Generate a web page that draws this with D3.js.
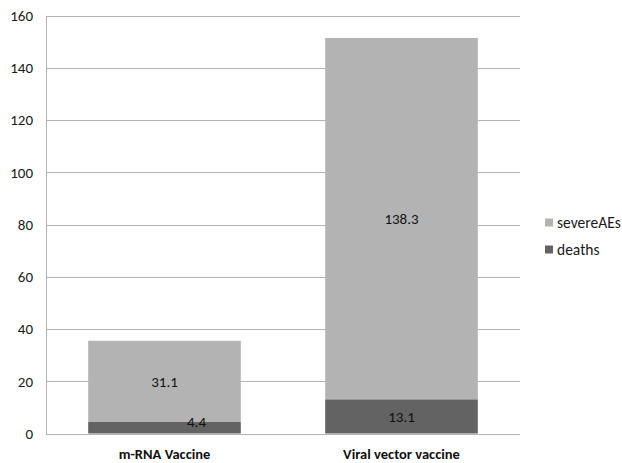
<!DOCTYPE html>
<html>
<head>
<meta charset="utf-8">
<script src="https://cdn.jsdelivr.net/npm/d3@7"></script>
<style>
  html, body { margin: 0; padding: 0; background: #fff; }
  svg { display: block; font-family: Carlito, Lato, "Liberation Sans", sans-serif; }
</style>
</head>
<body>
<svg id="chart" width="622" height="463"></svg>
<script>
// Vaccine categories and stacked series (deaths at the bottom, severe AEs on top)
const categories = ["m-RNA Vaccine", "Viral vector vaccine"];
const deaths = [4.4, 13.1];
const severeAEs = [31.1, 138.3];
const yTicks = [0, 20, 40, 60, 80, 100, 120, 140, 160];
const seriesNames = ["deaths", "severeAEs"];
const seriesColors = ["#636363", "#b3b3b3"];

const svg = d3.select("#chart");
const plot = { left: 46, right: 520, top: 15.5, bottom: 433.5 };

const x = d3.scaleBand()
  .domain(categories)
  .range([plot.left, plot.right])
  .paddingInner(0.356)
  .paddingOuter(0.178);

const y = d3.scaleLinear()
  .domain([0, 160])
  .range([plot.bottom, plot.top]);

// Horizontal gridlines
svg.append("g")
  .selectAll("line")
  .data(yTicks)
  .join("line")
  .attr("x1", plot.left)
  .attr("x2", plot.right)
  .attr("y1", d => Math.round(y(d)) + 0.5)
  .attr("y2", d => Math.round(y(d)) + 0.5)
  .attr("stroke", "#b3b3b3")
  .attr("stroke-width", 1);

// Y axis labels
const yAxis = svg.append("g")
  .attr("transform", `translate(${plot.left},0)`)
  .call(d3.axisLeft(y).tickValues(yTicks).tickSize(0).tickPadding(13));
yAxis.select(".domain").attr("stroke", "#b3b3b3");
yAxis.selectAll("text")
  .attr("font-size", 15)
  .attr("fill", "#1a1a1a")
  .attr("font-family", "Carlito, Lato, sans-serif");

// Stacked bars
const rows = categories.map((c, i) => ({ category: c, deaths: deaths[i], severeAEs: severeAEs[i] }));
const stacked = d3.stack().keys(seriesNames)(rows);

const layers = svg.append("g")
  .selectAll("g")
  .data(stacked)
  .join("g")
  .attr("fill", (d, i) => seriesColors[i]);

layers.selectAll("rect")
  .data(d => d)
  .join("rect")
  .attr("x", d => x(d.data.category))
  .attr("width", x.bandwidth())
  .attr("y", d => y(d[1]))
  .attr("height", d => y(d[0]) - y(d[1]));

// Value labels in the segments
stacked.forEach((layer, li) => {
  svg.append("g")
    .selectAll("text")
    .data(layer)
    .join("text")
    .attr("x", (d, i) => {
      const cx = x(d.data.category) + x.bandwidth() / 2;
      // the small m-RNA deaths label sits to the right of centre
      return (li === 0 && i === 0) ? cx + 32 : cx;
    })
    .attr("y", (d, i) => {
      const cy = (y(d[0]) + y(d[1])) / 2;
      return (li === 0 && i === 0) ? cy - 6 : cy;
    })
    .attr("dy", "0.35em")
    .attr("text-anchor", "middle")
    .attr("font-size", 15)
    .attr("fill", "#111")
    .text(d => d3.format(".1f")(d[1] - d[0]));
});

// Category labels
svg.append("g")
  .selectAll("text")
  .data(categories)
  .join("text")
  .attr("x", d => x(d) + x.bandwidth() / 2)
  .attr("y", 454)
  .attr("dy", "0.35em")
  .attr("text-anchor", "middle")
  .attr("font-size", 14.5)
  .attr("font-weight", "bold")
  .attr("fill", "#111")
  .text(d => d);

// Legend (severe AEs listed first)
const legendItems = [
  { name: "severeAEs", color: seriesColors[1] },
  { name: "deaths", color: seriesColors[0] }
];
const legend = svg.append("g")
  .selectAll("g")
  .data(legendItems)
  .join("g")
  .attr("transform", (d, i) => `translate(545,${222.5 + i * 27})`);
legend.append("rect")
  .attr("x", 0).attr("y", -4)
  .attr("width", 8).attr("height", 8)
  .attr("fill", d => d.color);
legend.append("text")
  .attr("x", 12)
  .attr("dy", "0.35em")
  .attr("font-size", 15.5)
  .attr("fill", "#1a1a1a")
  .text(d => d.name);
</script>
</body>
</html>
